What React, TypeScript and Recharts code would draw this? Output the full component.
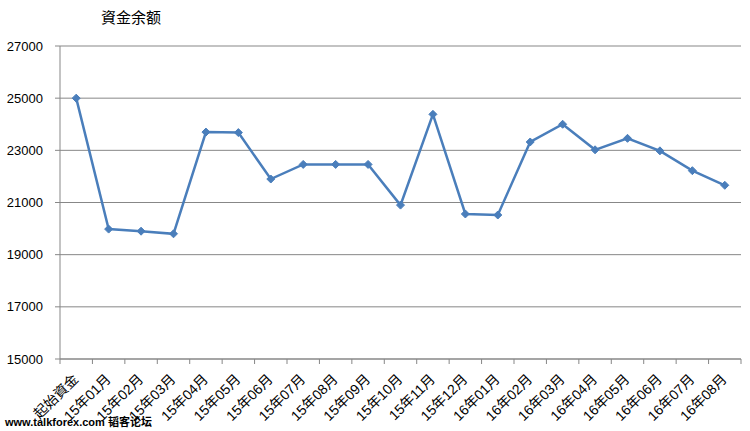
import { LineChart, Line, XAxis, YAxis, CartesianGrid } from 'recharts';

const months = [
  '起始資金',
  '15年01月', '15年02月', '15年03月', '15年04月', '15年05月', '15年06月',
  '15年07月', '15年08月', '15年09月', '15年10月', '15年11月', '15年12月',
  '16年01月', '16年02月', '16年03月', '16年04月', '16年05月', '16年06月',
  '16年07月', '16年08月',
];

const balance = [
  25000, 19980, 19900, 19800, 23700, 23680, 21900, 22460, 22460, 22460,
  20900, 24380, 20560, 20520, 23320, 24000, 23020, 23460, 22980, 22220, 21660,
];

const yTicks = [15000, 17000, 19000, 21000, 23000, 25000, 27000];

const data = months.map((m, i) => ({ month: m, balance: balance[i] }));

const FONT = '"Liberation Sans", "Noto Sans CJK SC", sans-serif';
const BLUE = '#4A7EBB';
const GRID = '#878787';
const HALF_STEP = 681 / months.length / 2;

function MonthTick(props: any) {
  const { x, y, payload, index } = props;
  return (
    <g>
      <line x1={x - HALF_STEP} y1={y} x2={x - HALF_STEP} y2={y + 5} stroke={GRID} />
      {index === months.length - 1 && (
        <line x1={x + HALF_STEP} y1={y} x2={x + HALF_STEP} y2={y + 5} stroke={GRID} />
      )}
      <text
        x={x + 3}
        y={y + 21}
        textAnchor="end"
        fontSize={14}
        fontFamily={FONT}
        fill="#000"
        transform={`rotate(-45 ${x + 3} ${y + 21})`}
      >
        {payload.value}
      </text>
    </g>
  );
}

function Diamond(props: any) {
  const { cx, cy } = props;
  if (cx == null || cy == null) return null;
  const r = 4;
  return (
    <polygon
      points={`${cx},${cy - r} ${cx + r},${cy} ${cx},${cy + r} ${cx - r},${cy}`}
      fill={BLUE}
      stroke={BLUE}
    />
  );
}

export default function App() {
  return (
    <div style={{ position: 'absolute', left: 0, top: 0, width: 750, height: 431, background: '#fff' }}>
      <LineChart
        width={750}
        height={431}
        data={data}
        margin={{ top: 46, right: 9, bottom: 0, left: 0 }}
      >
        <CartesianGrid vertical={false} stroke={GRID} strokeWidth={1} />
        <XAxis
          dataKey="month"
          interval={0}
          height={72}
          padding={{ left: HALF_STEP, right: HALF_STEP }}
          tickSize={0}
          tickMargin={0}
          tickLine={false}
          axisLine={{ stroke: GRID }}
          tick={<MonthTick />}
        />
        <YAxis
          width={60}
          domain={[15000, 27000]}
          ticks={yTicks}
          interval={0}
          tickSize={5}
          tickMargin={12}
          tickLine={{ stroke: GRID }}
          axisLine={{ stroke: GRID }}
          tick={{ fontSize: 13, fontFamily: FONT, fill: '#000' }}
        />
        <Line
          type="linear"
          dataKey="balance"
          stroke={BLUE}
          strokeWidth={2.5}
          dot={<Diamond />}
          activeDot={false}
          isAnimationActive={false}
        />
      </LineChart>
      <div
        style={{
          position: 'absolute',
          left: 101,
          top: 6,
          fontSize: 15,
          fontFamily: FONT,
          color: '#000',
        }}
      >
        資金余额
      </div>
      <div
        style={{
          position: 'absolute',
          left: 5,
          top: 413,
          fontSize: 11,
          fontWeight: 'bold',
          fontFamily: FONT,
          color: '#000',
          whiteSpace: 'nowrap',
        }}
      >
        www.talkforex.com 韬客论坛
      </div>
    </div>
  );
}
